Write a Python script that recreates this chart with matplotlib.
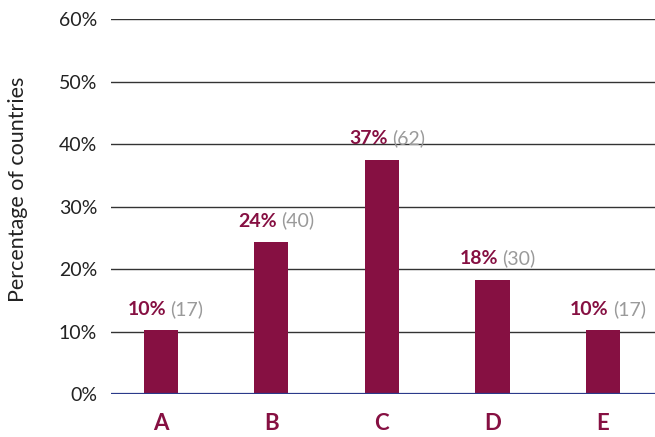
import matplotlib
matplotlib.use("Agg")
import matplotlib.pyplot as plt
from matplotlib.ticker import FuncFormatter

plt.rcParams['font.family'] = ['Lato', 'DejaVu Sans']

# datos del gráfico
categories = ['A', 'B', 'C', 'D', 'E']
percentages = [10.2, 24.3, 37.5, 18.3, 10.2]
pct_labels = ['10%', '24%', '37%', '18%', '10%']
counts = [17, 40, 62, 30, 17]
y_ticks = [0, 10, 20, 30, 40, 50, 60]

maroon = '#861042'
grey = '#9a9a9a'

fig = plt.figure(figsize=(6.55, 4.37), dpi=100)
ax = fig.add_axes([0.1695, 0.0984, 0.8305, 0.8581])

x = list(range(len(categories)))
ax.bar(x, percentages, width=0.31, color=maroon, zorder=3)

ax.set_ylim(0, 60)
ax.set_xlim(-0.45, 4.47)
ax.set_yticks(y_ticks)
ax.yaxis.set_major_formatter(FuncFormatter(lambda v, p: f'{int(v)}%'))
ax.grid(axis='y', color='#333333', linewidth=1.0, zorder=0)
ax.axhline(0, color='#2b3a8a', linewidth=1.6, zorder=4)

for s in ax.spines.values():
    s.set_visible(False)
ax.tick_params(axis='y', length=0, pad=10, labelsize=14, labelcolor='#222222')
ax.tick_params(axis='x', length=0, pad=14)
ax.set_xticks(x)
ax.set_xticklabels(categories, fontsize=16, fontweight='bold', color=maroon)
ax.set_ylabel('Percentage of countries', fontsize=15.5, color='#222222')
ax.yaxis.set_label_coords(-0.152, 0.545)

# etiquetas de valor sobre cada barra
for i, (v, lab, n) in enumerate(zip(percentages, pct_labels, counts)):
    ax.annotate(lab, (i, v), xytext=(4, 9), textcoords='offset points',
                ha='right', va='bottom', fontsize=14, fontweight='bold', color=maroon)
    ax.annotate(f'({n})', (i, v), xytext=(7, 9), textcoords='offset points',
                ha='left', va='bottom', fontsize=14, color=grey)

fig.savefig('out.png', dpi=100)
